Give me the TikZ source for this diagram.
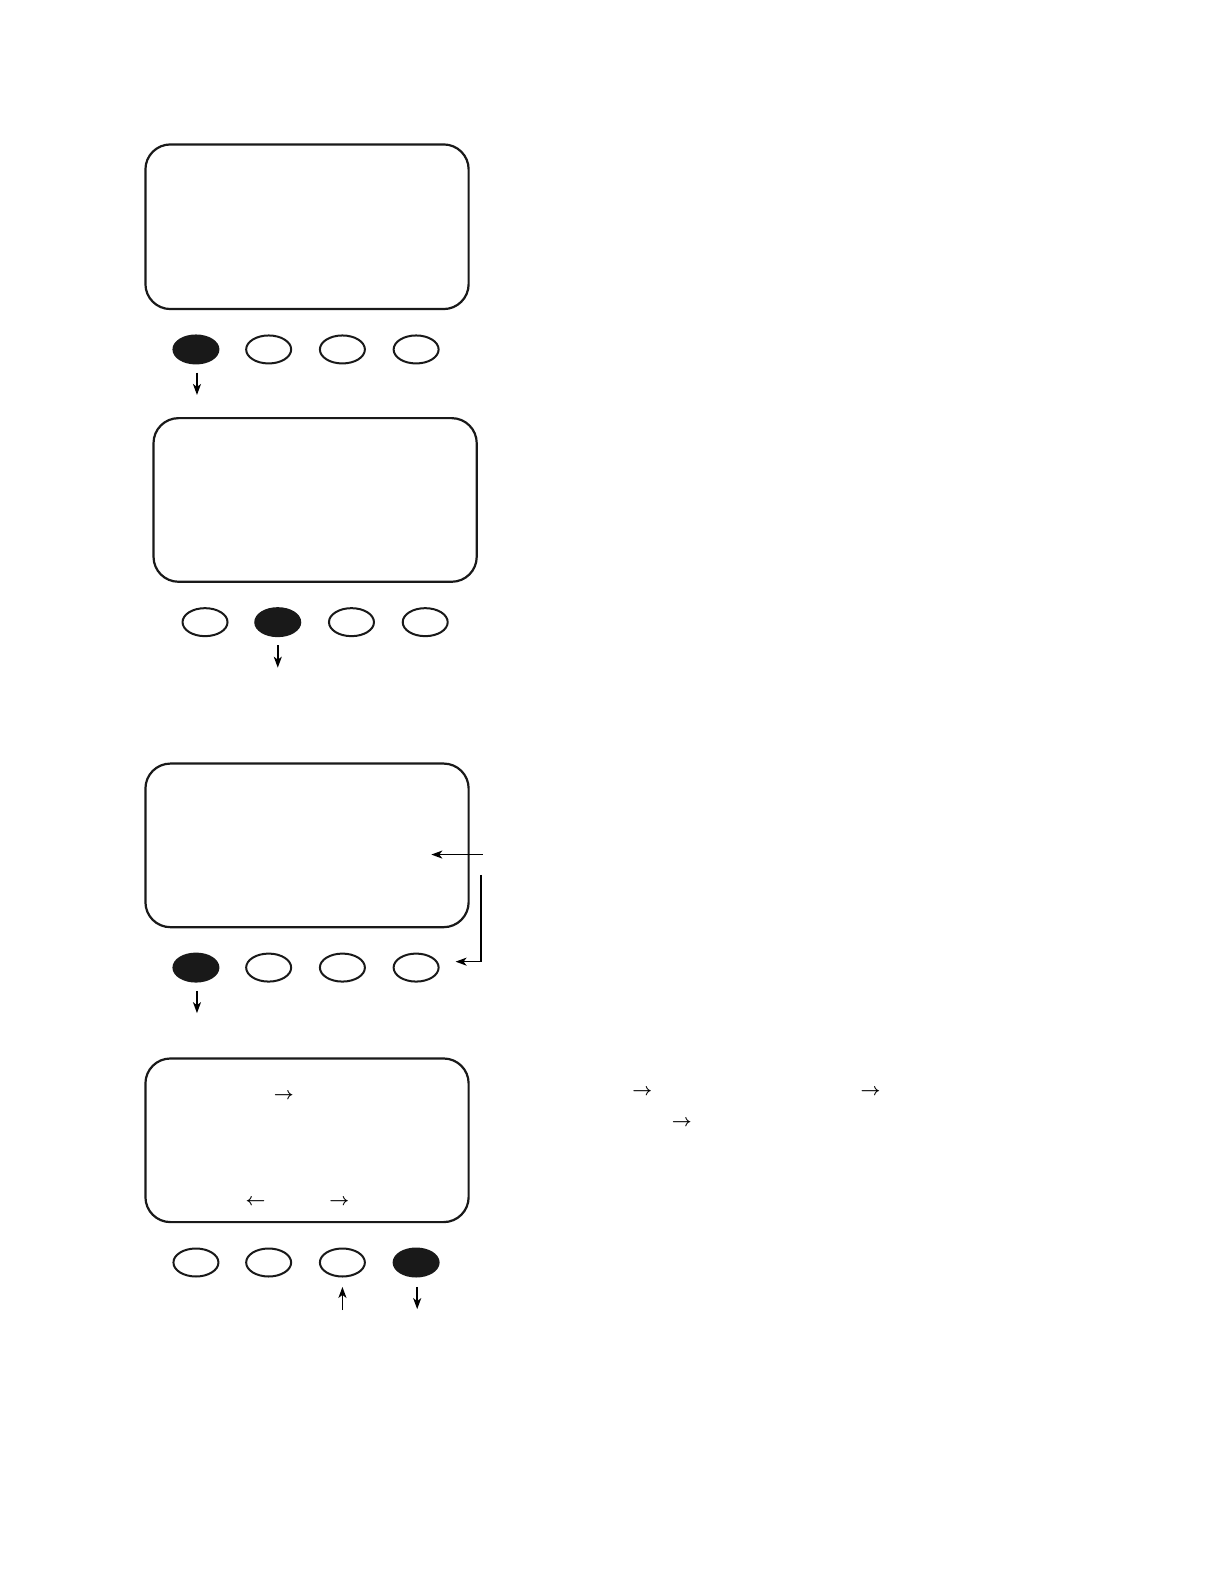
\documentclass[tikz,border=0pt]{standalone}
\usetikzlibrary{arrows.meta,shapes.geometric}
\begin{document}
\begin{tikzpicture}[x=1pt,y=-1pt,
  screen/.style={draw=black!90,line width=2.2pt,rounded corners=25pt},
  btn/.style={draw=black!90,line width=2pt,ellipse,minimum width=45pt,minimum height=28pt,inner sep=0pt},
  btnon/.style={btn,fill=black!90},
  ptr/.style={line width=1.6pt,-{Stealth[length=11pt,width=8pt,inset=3pt]}},
  glyph/.style={inner sep=0pt,font=\fontsize{16}{16}\selectfont\boldmath}]
\useasboundingbox (0,0) rectangle (1224,1584);
\begin{scope}[scale=1.01]
% screen 1
\draw[screen] (144,143) rectangle (464,306);
\node[btnon] (a1) at (194,346) {};
\node[btn] (a2) at (266,346) {};
\node[btn] (a3) at (339,346) {};
\node[btn] (a4) at (412,346) {};
\coordinate (a1s) at (195,369);
\coordinate (a1e) at (195,391);
\draw[ptr] (a1s) -- (a1e);
% screen 2
\draw[screen] (152,414) rectangle (472,576);
\node[btn] (b1) at (203,616) {};
\node[btnon] (b2) at (275,616) {};
\node[btn] (b3) at (348,616) {};
\node[btn] (b4) at (421,616) {};
\coordinate (b2s) at (275,639);
\coordinate (b2e) at (275,661);
\draw[ptr] (b2s) -- (b2e);
% screen 3
\draw[screen] (144,756) rectangle (464,918);
\node[btnon] (c1) at (194,958) {};
\node[btn] (c2) at (266,958) {};
\node[btn] (c3) at (339,958) {};
\node[btn] (c4) at (412,958) {};
\coordinate (c1s) at (195,981);
\coordinate (c1e) at (195,1003);
\draw[ptr] (c1s) -- (c1e);
\coordinate (h1) at (478,846);
\coordinate (h2) at (427,846);
\draw[ptr] (h1) -- (h2);
\coordinate (v1) at (476,866);
\coordinate (v2) at (451,952);
\draw[ptr] (v1) |- (v2);
% screen 4
\draw[screen] (144,1048) rectangle (464,1210);
\node[btn] (d1) at (194,1250) {};
\node[btn] (d2) at (266,1250) {};
\node[btn] (d3) at (339,1250) {};
\node[btnon] (d4) at (412,1250) {};
\coordinate (d3s) at (339,1297);
\coordinate (d3e) at (339,1274);
\draw[ptr] (d3s) -- (d3e);
\coordinate (d4s) at (413,1274);
\coordinate (d4e) at (413,1296);
\draw[ptr] (d4s) -- (d4e);
\node[glyph] (t1) at (281,1085) {$\rightarrow$};
\node[glyph] (t2) at (253,1190) {$\leftarrow$};
\node[glyph] (t3) at (336,1190) {$\rightarrow$};
\node[glyph] (t4) at (636,1081) {$\rightarrow$};
\node[glyph] (t5) at (862,1081) {$\rightarrow$};
\node[glyph] (t6) at (675,1112) {$\rightarrow$};
\end{scope}
\end{tikzpicture}
\end{document}
